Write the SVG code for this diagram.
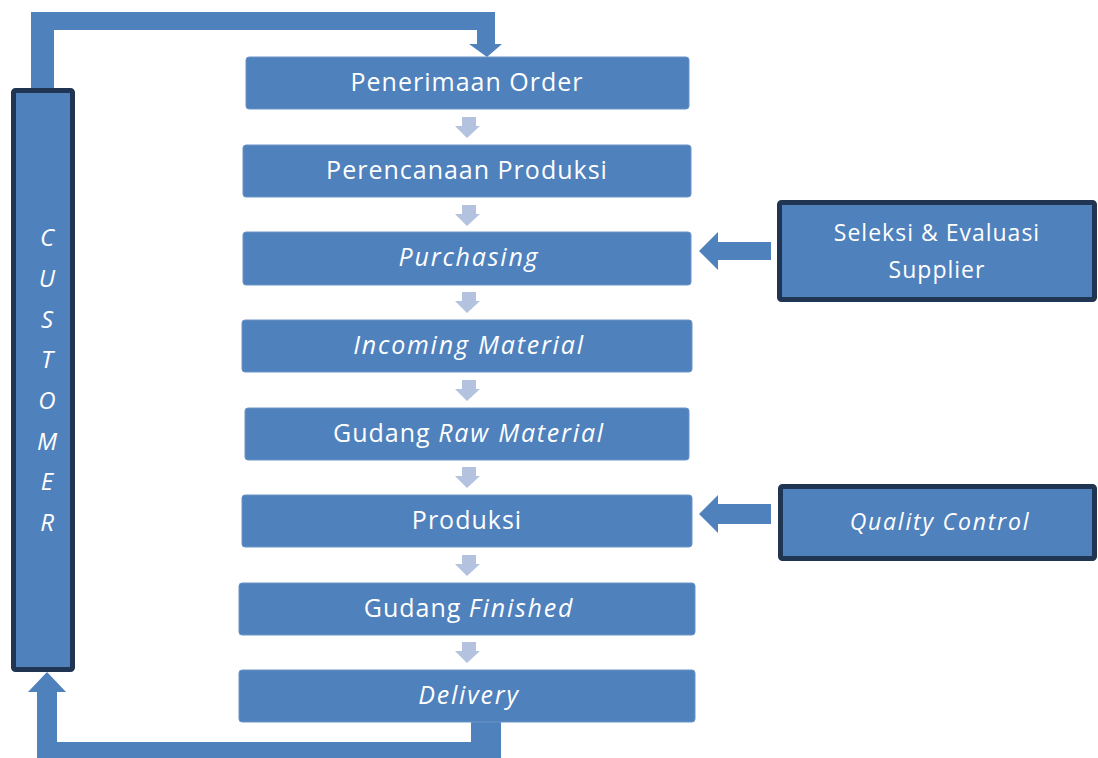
<svg xmlns="http://www.w3.org/2000/svg" width="1098" height="758" viewBox="0 0 1098 758">
<style>
.box{fill:#4F81BD;stroke:#6A93C6;stroke-width:1}
.side{fill:#4F81BD;stroke:#1F3552;stroke-width:5}
.t{font-family:"Open Sans","DejaVu Sans",sans-serif;font-size:25px;fill:#FFFFFF;text-anchor:middle;letter-spacing:1px}
.s{font-size:23px}
.i{font-style:italic;letter-spacing:1.8px}
.c{font-size:24px;letter-spacing:0}
.flow{fill:#4F81BD}
.small{fill:#B3C3DF}
</style>
<rect width="1098" height="758" fill="#FFFFFF"/>
<g id="connectors">
<path class="flow" d="M31,12 H495 V44 H502 L487,57 L469,44 H477 V30 H54 V90 H31 Z"/>
<path class="flow" d="M471,722 H501 V758 H37 V692 H28 L47,672 L66,692 H57 V742 H471 Z"/>
<path class="flow" d="M771,242 H718 V232 L699,251 L718,270 V260 H771 Z"/>
<path class="flow" d="M771,504 H718 V495 L699,514 L718,533 V524 H771 Z"/>
<path class="small" d="M462,117 H476 V126 H480 L467,138 L455,126 H462 Z"/>
<path class="small" d="M462,205 H476 V214 H480 L467,226 L455,214 H462 Z"/>
<path class="small" d="M462,292 H476 V301 H480 L467,313 L455,301 H462 Z"/>
<path class="small" d="M462,380 H476 V389 H480 L467,401 L455,389 H462 Z"/>
<path class="small" d="M462,467 H476 V476 H480 L467,488 L455,476 H462 Z"/>
<path class="small" d="M462,555 H476 V564 H480 L467,576 L455,564 H462 Z"/>
<path class="small" d="M462,642 H476 V651 H480 L467,663 L455,651 H462 Z"/>
</g>
<g id="customer">
<rect class="side" x="13.5" y="90.5" width="59" height="579" rx="2"/>
<g class="t i c">
<text x="47" y="246">C</text>
<text x="47" y="287">U</text>
<text x="47" y="328">S</text>
<text x="47" y="368">T</text>
<text x="47" y="409">O</text>
<text x="47" y="450">M</text>
<text x="47" y="490">E</text>
<text x="47" y="531">R</text>
</g>
</g>
<g id="penerimaan-order">
<rect class="box" x="246" y="57" width="443" height="52" rx="3"/>
<text class="t" x="467" y="91">Penerimaan Order</text>
</g>
<g id="perencanaan-produksi">
<rect class="box" x="243" y="145" width="448" height="52" rx="3"/>
<text class="t" x="467" y="179">Perencanaan Produksi</text>
</g>
<g id="purchasing">
<rect class="box" x="243" y="232" width="448" height="53" rx="3"/>
<text class="t i" x="469" y="266">Purchasing</text>
</g>
<g id="incoming-material">
<rect class="box" x="242" y="320" width="450" height="52" rx="3"/>
<text class="t i" x="469" y="354">Incoming Material</text>
</g>
<g id="gudang-raw-material">
<rect class="box" x="245" y="408" width="444" height="52" rx="3"/>
<text class="t" x="469" y="442">Gudang <tspan class="i">Raw Material</tspan></text>
</g>
<g id="produksi">
<rect class="box" x="242" y="495" width="450" height="52" rx="3"/>
<text class="t" x="467" y="529">Produksi</text>
</g>
<g id="gudang-finished">
<rect class="box" x="239" y="583" width="456" height="52" rx="3"/>
<text class="t" x="469" y="617">Gudang <tspan class="i">Finished</tspan></text>
</g>
<g id="delivery">
<rect class="box" x="239" y="670" width="456" height="52" rx="3"/>
<text class="t i" x="469" y="704">Delivery</text>
</g>
<g id="seleksi-evaluasi-supplier">
<rect class="side" x="779.5" y="202.5" width="315" height="97" rx="2"/>
<text class="t s" x="937" y="241">Seleksi &amp; Evaluasi</text>
<text class="t s" x="937" y="278">Supplier</text>
</g>
<g id="quality-control">
<rect class="side" x="780.5" y="486.5" width="314" height="72" rx="2"/>
<text class="t s i" x="940" y="530">Quality Control</text>
</g>
</svg>
